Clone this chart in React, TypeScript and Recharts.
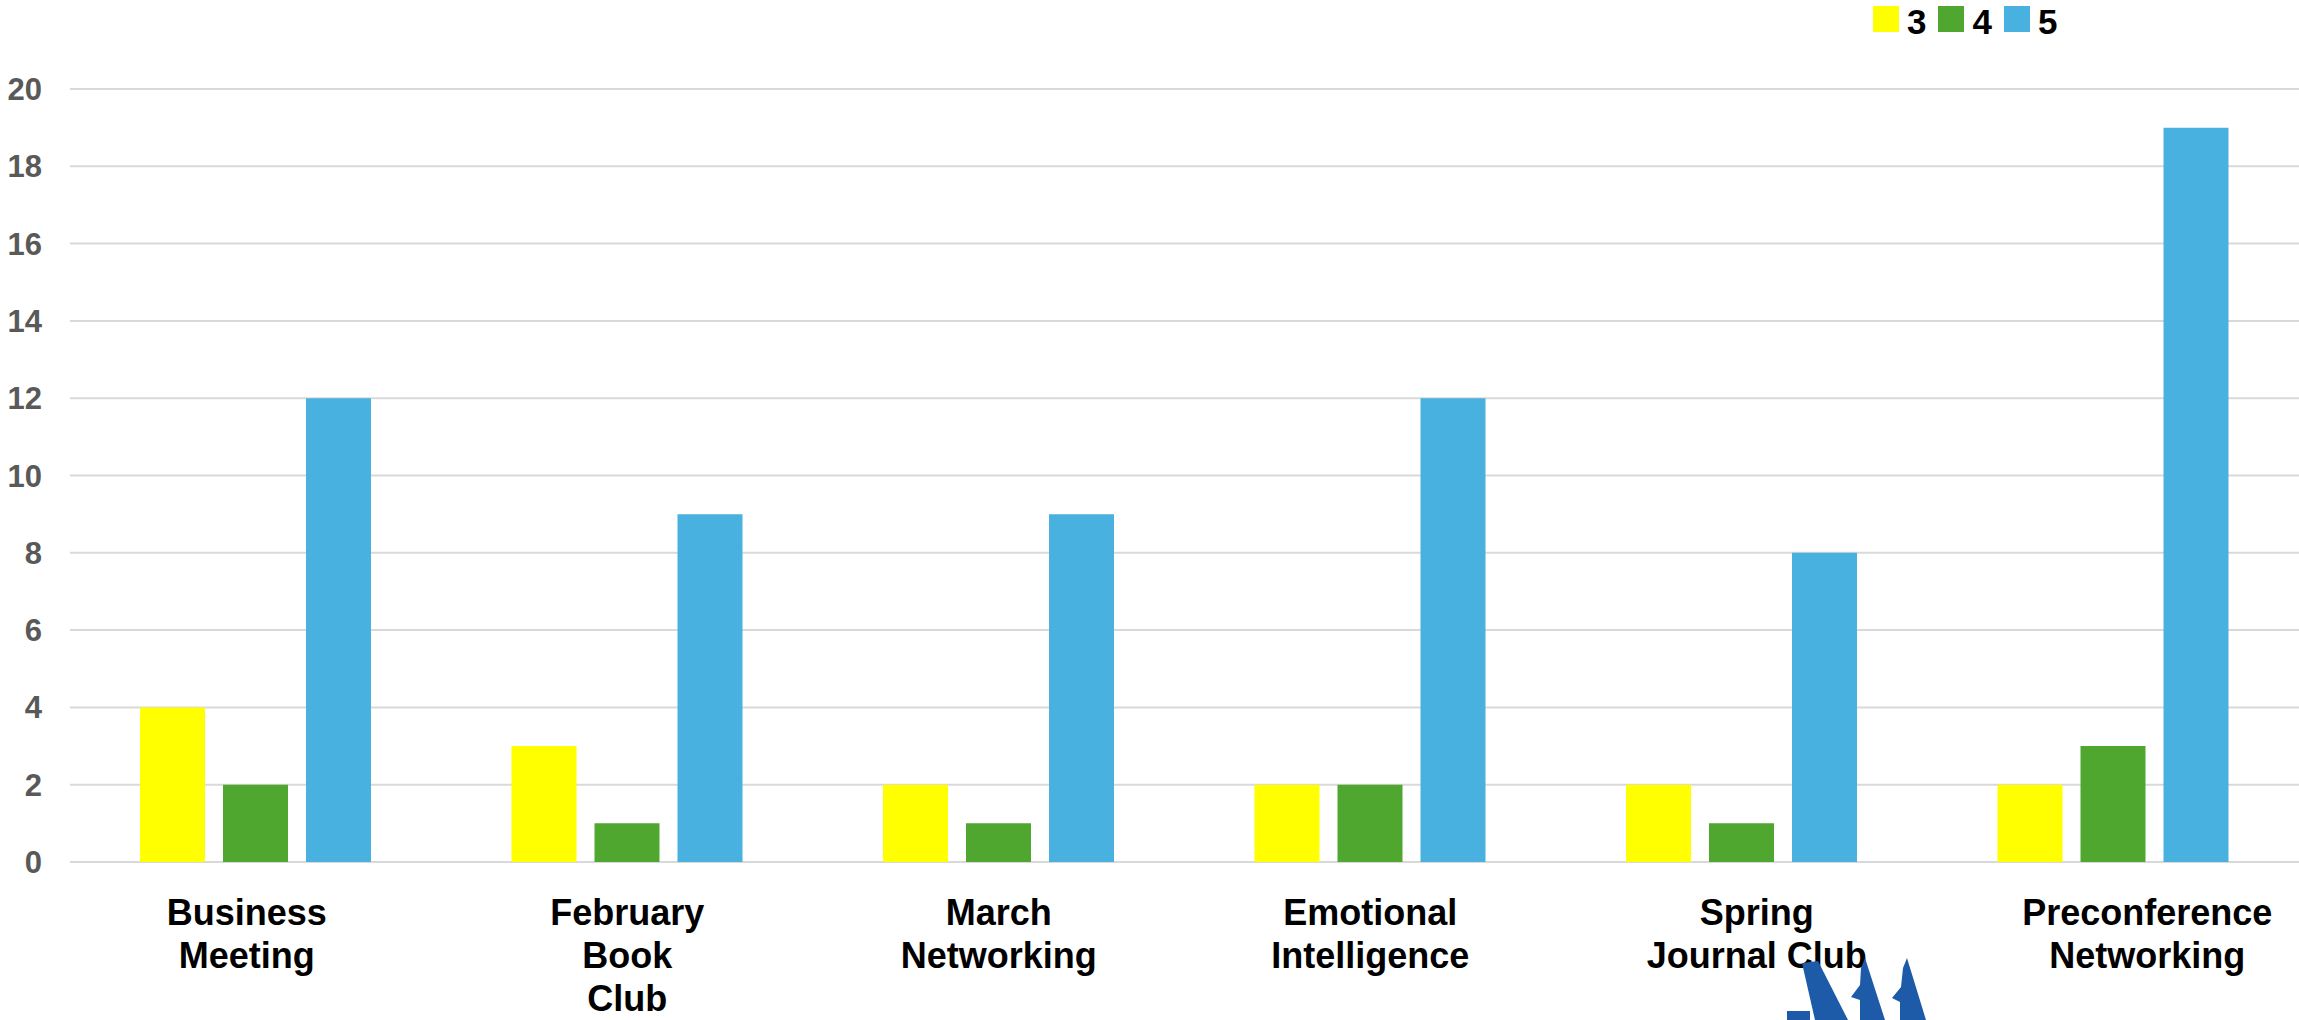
import { BarChart, Bar, XAxis, YAxis, CartesianGrid } from "recharts";

const categories = [
  "Business\nMeeting",
  "February\nBook\nClub",
  "March\nNetworking",
  "Emotional\nIntelligence",
  "Spring\nJournal Club",
  "Preconference\nNetworking",
];
const rating3 = [4, 3, 2, 2, 2, 2];
const rating4 = [2, 1, 1, 2, 1, 3];
const rating5 = [12, 9, 9, 12, 8, 19];
const yTicks = [0, 2, 4, 6, 8, 10, 12, 14, 16, 18, 20];

const series = [
  { key: "r3", name: "3", color: "#FFFF00" },
  { key: "r4", name: "4", color: "#4FA72F" },
  { key: "r5", name: "5", color: "#48B1E0" },
];

const data = categories.map((c, i) => ({
  name: c,
  r3: rating3[i],
  r4: rating4[i],
  r5: rating5[i],
}));

// the original labels are not all centred under their group
const labelNudge: Record<number, number> = { 0: -9, 4: 15, 5: 34 };

const FONT = "'Liberation Sans', Arial, sans-serif";

function CategoryTick({ x, y, payload, index }: any) {
  const lines = String(payload.value).split("\n");
  const dx = labelNudge[index] || 0;
  return (
    <text
      x={x + dx}
      y={y}
      textAnchor="middle"
      fontFamily={FONT}
      fontWeight="bold"
      fontSize={36}
      fill="#000"
    >
      {lines.map((l, i) => (
        <tspan key={i} x={x + dx} dy={i === 0 ? 55 : 43}>
          {l}
        </tspan>
      ))}
    </text>
  );
}

function TopLegend() {
  return (
    <div
      style={{
        position: "absolute",
        top: 0,
        left: 1873,
        display: "flex",
        alignItems: "flex-start",
        fontFamily: FONT,
      }}
    >
      {series.map((s) => (
        <div key={s.key} style={{ display: "flex", alignItems: "flex-start", marginRight: 12 }}>
          <div style={{ width: 26, height: 26, background: s.color, marginTop: 6 }} />
          <span
            style={{
              fontSize: 35,
              fontWeight: "bold",
              lineHeight: "44px",
              marginLeft: 8,
              color: "#000",
            }}
          >
            {s.name}
          </span>
        </div>
      ))}
    </div>
  );
}

function Logo() {
  return (
    <svg
      width={2299}
      height={1020}
      style={{ position: "absolute", left: 0, top: 0, pointerEvents: "none" }}
    >
      <g fill="#1D5BA8">
        <polygon points="1802,963 1818,961 1848,1020 1815,1020" />
        <polygon points="1787,1011 1810,1011 1810,1020 1787,1020" />
        <polygon points="1865,958 1885,1020 1860,1020 1860,1000 1851,997 1860,985 1861,968" />
        <polygon points="1907,958 1926,1020 1900,1020 1900,1002 1892,998 1901,987 1903,968" />
      </g>
    </svg>
  );
}

export default function App() {
  return (
    <div style={{ position: "absolute", left: 0, top: 0, width: 2299, height: 1020, background: "#fff" }}>
      <BarChart
        width={2299}
        height={1020}
        data={data}
        margin={{ top: 89, right: 0, left: 0, bottom: 0 }}
        barSize={65}
        barGap={18}
      >
        <CartesianGrid vertical={false} stroke="#D9D9D9" strokeWidth={2} />
        <XAxis
          dataKey="name"
          height={158}
          axisLine={false}
          tickLine={false}
          interval={0}
          tick={<CategoryTick />}
        />
        <YAxis
          width={70}
          domain={[0, 20]}
          ticks={yTicks}
          axisLine={false}
          tickLine={false}
          tickMargin={22}
          tick={{ fill: "#595959", fontSize: 31, fontWeight: "bold", fontFamily: FONT }}
        />
        {series.map((s) => (
          <Bar key={s.key} dataKey={s.key} name={s.name} fill={s.color} isAnimationActive={false} />
        ))}
      </BarChart>
      <TopLegend />
      <Logo />
    </div>
  );
}
